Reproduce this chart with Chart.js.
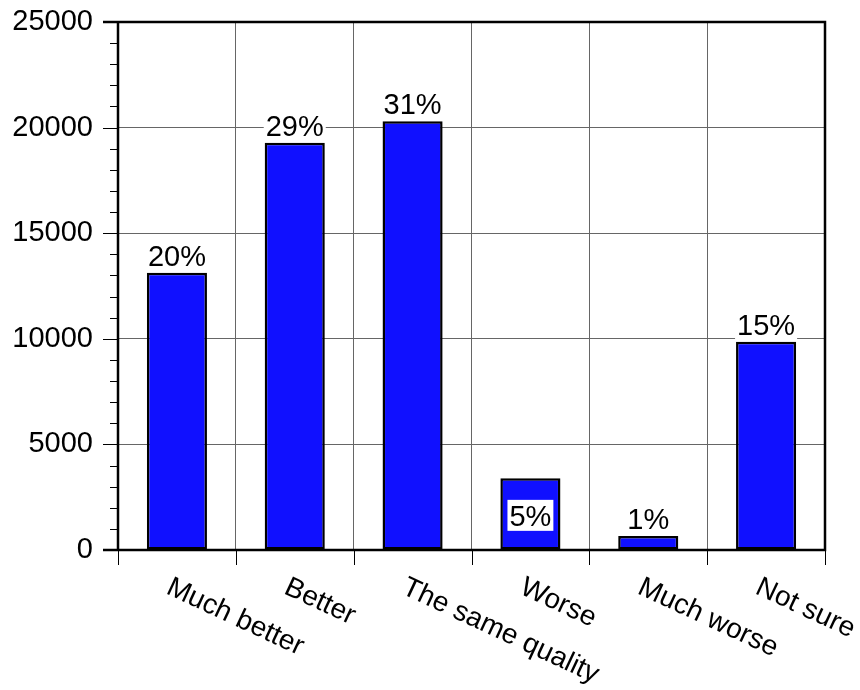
<!DOCTYPE html>
<html>
<head>
<meta charset="utf-8">
<script src="https://cdn.jsdelivr.net/npm/chart.js@4.4.1/dist/chart.umd.min.js"></script>
<style>
html,body{margin:0;padding:0;background:#fff;}
canvas{display:block;}
</style>
</head>
<body>
<canvas id="c" width="860" height="690"></canvas>
<script>
const categories = ['Much better', 'Better', 'The same quality', 'Worse', 'Much worse', 'Not sure'];
const counts = [13130, 19280, 20300, 3400, 660, 9860];
const percentLabels = ['20%', '29%', '31%', '5%', '1%', '15%'];
const yMin = 0;
const yMax = 25000;
const yMajorStep = 5000;
const yMinorStep = 1000;

const FONT = "'Liberation Sans', Arial, Helvetica, sans-serif";

const framePlugin = {
  id: 'frame',
  afterDatasetsDraw(chart) {
    const ctx = chart.ctx;
    const a = chart.chartArea;
    const ys = chart.scales.y;
    const xs = chart.scales.x;
    ctx.save();
    ctx.strokeStyle = '#000';
    ctx.lineWidth = 1;
    for (let v = yMin; v <= yMax; v += yMinorStep) {
      const y = Math.round(ys.getPixelForValue(v)) + 0.5;
      const len = (v % yMajorStep === 0) ? 15 : 8;
      ctx.beginPath();
      ctx.moveTo(a.left - len, y);
      ctx.lineTo(a.left, y);
      ctx.stroke();
    }
    const n = categories.length;
    const w = (a.right - a.left) / n;
    for (let i = 0; i <= n; i++) {
      const x = Math.round(a.left + i * w) + 0.5;
      ctx.beginPath();
      ctx.moveTo(x, a.bottom);
      ctx.lineTo(x, a.bottom + 15);
      ctx.stroke();
    }
    ctx.lineWidth = 2.5;
    ctx.beginPath();
    ctx.moveTo(a.left - 15, a.top);
    ctx.lineTo(a.right, a.top);
    ctx.lineTo(a.right, a.bottom);
    ctx.lineTo(a.left - 15, a.bottom);
    ctx.moveTo(a.left, a.top);
    ctx.lineTo(a.left, a.bottom);
    ctx.stroke();

    const meta = chart.getDatasetMeta(0);
    ctx.font = '29px ' + FONT;
    ctx.textAlign = 'center';
    ctx.textBaseline = 'alphabetic';
    meta.data.forEach((bar, i) => {
      const txt = percentLabels[i];
      const tw = ctx.measureText(txt).width;
      let base;
      if (i === 3) {
        base = (bar.y + bar.base) / 2 + 12;
      } else {
        base = bar.y - 7;
      }
      ctx.fillStyle = '#fff';
      ctx.fillRect(bar.x - tw / 2 - 2, base - 26, tw + 4, 31);
      ctx.fillStyle = '#000';
      ctx.fillText(txt, bar.x, base);
    });

    ctx.font = '28px ' + FONT;
    ctx.textAlign = 'left';
    ctx.textBaseline = 'alphabetic';
    ctx.fillStyle = '#000';
    categories.forEach((lab, i) => {
      const cx = xs.getPixelForValue(i);
      ctx.save();
      ctx.translate(cx - 12, a.bottom + 43);
      ctx.rotate(25 * Math.PI / 180);
      ctx.fillText(lab, 0, 0);
      ctx.restore();
    });
    ctx.restore();
  }
};

new Chart(document.getElementById('c'), {
  type: 'bar',
  data: {
    labels: categories,
    datasets: [{
      data: counts,
      backgroundColor: '#1010ff',
      borderColor: '#000',
      borderWidth: 2.5,
      borderSkipped: false,
      barPercentage: 0.51,
      categoryPercentage: 1.0
    }]
  },
  options: {
    responsive: false,
    devicePixelRatio: 1,
    animation: false,
    layout: { padding: { top: 22, right: 35, left: 0, bottom: 0 } },
    plugins: { legend: { display: false }, tooltip: { enabled: false } },
    scales: {
      x: {
        offset: true,
        grid: { color: '#666', lineWidth: 1, drawTicks: false, offset: true },
        border: { display: false },
        ticks: { display: false },
        afterFit(s) { s.height = 140; s.paddingLeft = 0; s.paddingRight = 0; }
      },
      y: {
        min: yMin,
        max: yMax,
        grid: { color: '#666', lineWidth: 1, drawTicks: false },
        border: { display: false },
        ticks: {
          stepSize: yMajorStep,
          padding: 25,
          color: '#000',
          font: { family: FONT, size: 29 },
          callback: (v) => String(v)
        },
        afterFit(s) { s.width = 118; s.paddingTop = 0; s.paddingBottom = 0; }
      }
    }
  },
  plugins: [framePlugin]
});
</script>
</body>
</html>
